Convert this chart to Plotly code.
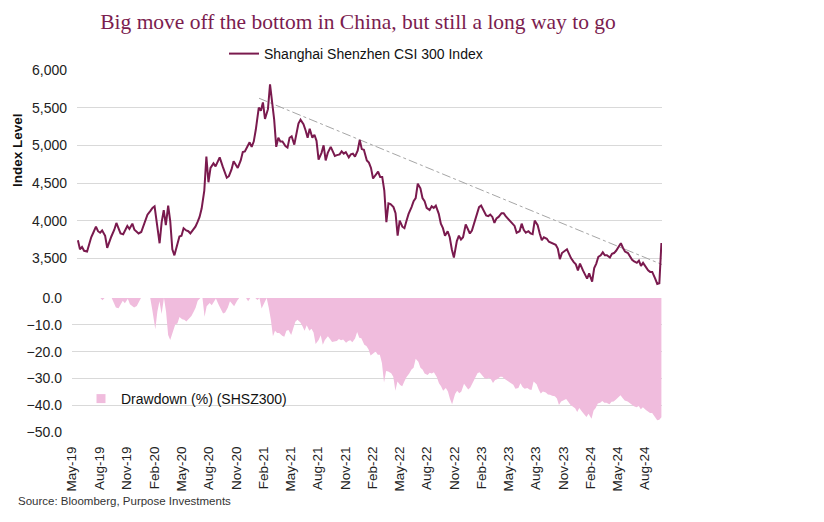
import pandas as pd
import plotly.graph_objects as go

# ---------------- data (4 readings per month, May-2019 .. Sep-2024) ----------------
months = pd.period_range("2019-05", "2024-09", freq="M")

idx_2019 = [
    3740, 3620, 3650, 3600,   # May
    3590, 3700, 3780, 3840,   # Jun
    3920, 3860, 3840, 3870,   # Jul
    3800, 3640, 3720, 3790,   # Aug
    3880, 3970, 3900, 3830,   # Sep
    3820, 3880, 3930, 3890,   # Oct
    3960, 3880, 3860, 3830,   # Nov
    3850, 3920, 4000, 4080,   # Dec
]
idx_2020 = [
    4130, 4170, 4190, 4000,   # Jan
    3700, 3980, 4140, 3940,   # Feb
    4200, 3990, 3620, 3540,   # Mar
    3680, 3790, 3800, 3900,   # Apr
    3870, 3860, 3830, 3870,   # May
    3920, 3980, 4050, 4160,   # Jun
    4400, 4850, 4510, 4700,   # Jul
    4760, 4720, 4790, 4840,   # Aug
    4720, 4650, 4570, 4590,   # Sep
    4680, 4790, 4740, 4700,   # Oct
    4800, 4910, 4920, 4980,   # Nov
    5040, 4980, 5050, 5210,   # Dec
]
idx_2021 = [
    5500, 5460, 5570, 5350,   # Jan
    5480, 5810, 5600, 5340,   # Feb
    4980, 5100, 5050, 5050,   # Mar
    4990, 4970, 5100, 5120,   # Apr
    5010, 5130, 5290, 5340,   # May
    5280, 5200, 5100, 5220,   # Jun
    5100, 5140, 5060, 4810,   # Jul
    4900, 5000, 4800, 4900,   # Aug
    4980, 4920, 4860, 4870,   # Sep
    4880, 4920, 4890, 4910,   # Oct
    4840, 4880, 4890, 4850,   # Nov
    4930, 5070, 4950, 4940,   # Dec
]
idx_2022 = [
    4800, 4770, 4700, 4560,   # Jan
    4620, 4650, 4580, 4580,   # Feb
    4400, 3980, 4230, 4220,   # Mar
    4180, 4100, 3800, 4000,   # Apr
    3920, 3900, 4000, 4090,   # May
    4180, 4260, 4300, 4490,   # Jun
    4430, 4300, 4260, 4170,   # Jul
    4140, 4190, 4170, 4200,   # Aug
    4090, 3960, 3900, 3800,   # Sep
    3860, 3780, 3620, 3510,   # Oct
    3730, 3800, 3750, 3780,   # Nov
    3950, 3880, 3830, 3870,   # Dec
]
idx_2023 = [
    4000, 4100, 4180, 4200,   # Jan
    4130, 4070, 4060, 4080,   # Feb
    4050, 3970, 4030, 4050,   # Mar
    4100, 4100, 4060, 4030,   # Apr
    4000, 3970, 3930, 3840,   # May
    3860, 3960, 3880, 3840,   # Jun
    3860, 3830, 3820, 4000,   # Jul
    3940, 3830, 3740, 3780,   # Aug
    3760, 3720, 3710, 3690,   # Sep
    3680, 3630, 3490, 3570,   # Oct
    3600, 3620, 3560, 3500,   # Nov
    3450, 3420, 3340, 3430,   # Dec
]
idx_2024 = [
    3340, 3280, 3230, 3300,   # Jan
    3190, 3370, 3430, 3520,   # Feb
    3540, 3580, 3540, 3540,   # Mar
    3510, 3560, 3570, 3600,   # Apr
    3660, 3700, 3640, 3590,   # May
    3570, 3530, 3480, 3460,   # Jun
    3440, 3470, 3400, 3440,   # Jul
    3380, 3340, 3320, 3320,   # Aug
    3230, 3160, 3170, 3703,   # Sep
]

dd_2019 = [
    0, 0, 0, 0,
    0, 0, 0, 0,
    0, 0, 0, 0,
    0, -0.8, 0, 0,
    0, 0, -1.8, -3.5,
    -3.8, -2.3, -1.0, -2.0,
    -0.3, -2.3, -2.8, -3.5,
    -3.0, -1.3, 0, 0,
]
dd_2020 = [
    0, 0, 0, -4.5,
    -11.7, -5.0, -1.2, -6.0,
    0, -5.0, -13.8, -15.7,
    -12.4, -9.8, -9.5, -7.1,
    -7.9, -8.1, -8.8, -7.9,
    -6.7, -5.2, -3.6, -1.0,
    0, 0, -7.0, -3.1,
    -1.9, -2.7, -1.2, -0.2,
    -2.7, -4.1, -5.8, -5.4,
    -3.5, -1.2, -2.3, -3.1,
    -1.0, 0, 0, 0,
    0, -1.2, 0, 0,
]
dd_2021 = [
    0, -0.7, 0, -3.9,
    -1.6, 0, -3.6, -8.1,
    -14.3, -12.2, -13.1, -13.1,
    -14.1, -14.5, -12.2, -11.9,
    -13.8, -11.7, -8.9, -8.1,
    -9.1, -10.5, -12.2, -10.2,
    -12.2, -11.5, -12.9, -17.2,
    -15.7, -13.9, -17.4, -15.7,
    -14.3, -15.3, -16.4, -16.2,
    -16.0, -15.3, -15.8, -15.5,
    -16.7, -16.0, -15.8, -16.5,
    -15.1, -12.7, -14.8, -15.0,
]
dd_2022 = [
    -17.4, -17.9, -19.1, -21.5,
    -20.5, -20.0, -21.2, -21.2,
    -24.3, -31.5, -27.2, -27.4,
    -28.1, -29.4, -34.6, -31.2,
    -32.5, -32.9, -31.2, -29.6,
    -28.1, -26.7, -26.0, -22.7,
    -23.8, -26.0, -26.7, -28.2,
    -28.7, -27.9, -28.2, -27.7,
    -29.6, -31.8, -32.9, -34.6,
    -33.6, -34.9, -37.7, -39.6,
    -35.8, -34.6, -35.5, -34.9,
    -32.0, -33.2, -34.1, -33.4,
]
dd_2023 = [
    -31.2, -29.4, -28.1, -27.7,
    -28.9, -29.9, -30.1, -29.8,
    -30.3, -31.7, -30.6, -30.3,
    -29.4, -29.4, -30.1, -30.6,
    -31.2, -31.7, -32.4, -33.9,
    -33.6, -31.8, -33.2, -33.9,
    -33.6, -34.1, -34.3, -31.2,
    -32.2, -34.1, -35.6, -34.9,
    -35.3, -36.0, -36.1, -36.5,
    -36.7, -37.5, -39.9, -38.6,
    -38.0, -37.7, -38.7, -39.8,
    -40.6, -41.1, -42.5, -41.0,
]
dd_2024 = [
    -42.5, -43.5, -44.4, -43.2,
    -45.1, -42.0, -41.0, -39.4,
    -39.1, -38.4, -39.1, -39.1,
    -39.6, -38.7, -38.6, -38.0,
    -37.0, -36.3, -37.3, -38.2,
    -38.6, -39.2, -40.1, -40.4,
    -40.8, -40.3, -41.5, -40.8,
    -41.8, -42.5, -42.9, -42.9,
    -44.4, -45.6, -45.4, -44.5,
]

trend_dates = ["2021-01-05", "2024-10-05"]
trend_values = [5625, 3405]

index_ticks = [3500, 4000, 4500, 5000, 5500, 6000]
dd_ticks = [0, -10, -20, -30, -40, -50]

index_values = idx_2019 + idx_2020 + idx_2021 + idx_2022 + idx_2023 + idx_2024
drawdown_values = dd_2019 + dd_2020 + dd_2021 + dd_2022 + dd_2023 + dd_2024
dates = [m.to_timestamp() + pd.Timedelta(days=3 + 7 * k) for m in months for k in range(4)]
assert len(index_values) == len(dates) == len(drawdown_values)

# ---------------- figure ----------------
# The page body has an 8px margin, so the figure is 816x514 and sits at (8, 8).
FONT = "Liberation Sans, Arial, sans-serif"
LINE_COL = "#7A1A4E"
PINK = "#F0BCDD"
GRID = "#D9D9D9"
W, H = 816, 514
L, R, T, B = 64, 162, 62, 90
PW, PH = W - L - R, H - T - B          # 590 x 362
X_RANGE = ["2019-05-01", "2024-09-27"]


def px_x(page_x):   # page pixel -> paper x
    return (page_x - 8 - L) / PW


def px_y(page_y):   # page pixel -> paper y
    return (T + PH - (page_y - 8)) / PH


fig = go.Figure()

fig.add_trace(go.Scatter(
    x=dates, y=drawdown_values, xaxis="x", yaxis="y2",
    mode="lines", line=dict(width=0, color=PINK), fill="tozeroy", fillcolor=PINK,
    showlegend=False, hoverinfo="x+y", name="Drawdown (%) (SHSZ300)",
))
fig.add_trace(go.Scatter(
    x=[None], y=[None], xaxis="x", yaxis="y2", mode="markers",
    marker=dict(symbol="square", size=9, color=PINK),
    name="Drawdown (%) (SHSZ300)", legend="legend2", showlegend=True,
))
fig.add_trace(go.Scatter(
    x=trend_dates, y=trend_values, xaxis="x2", yaxis="y", mode="lines",
    line=dict(color="#A6A6A6", width=1, dash="dashdot"), showlegend=False,
    hoverinfo="skip",
))
fig.add_trace(go.Scatter(
    x=dates, y=index_values, xaxis="x2", yaxis="y", mode="lines",
    line=dict(color=LINE_COL, width=2), name="Shanghai Shenzhen CSI 300 Index",
    legend="legend",
))

tickfont = dict(family=FONT, size=14, color="#222222")

fig.update_layout(
    width=W, height=H,
    margin=dict(l=L, r=R, t=T, b=B),
    paper_bgcolor="white", plot_bgcolor="white",
    font=dict(family=FONT, size=14, color="#222222"),
    title=dict(
        text="Big move off the bottom in China, but still a long way to go",
        font=dict(family="Liberation Serif, Georgia, serif", size=21.5, color="#7B1D4F"),
        x=(358 - 8) / W, xanchor="center", xref="container",
        y=1 - (21 - 8) / H, yanchor="middle", yref="container",
    ),
    # bottom (drawdown) panel x axis carries the date labels
    xaxis=dict(
        type="date", anchor="y2", domain=[0.0, 1.0],
        range=X_RANGE,
        tick0="2019-05-01", dtick="M3", tickformat="%b-%y", tickangle=-90,
        tickfont=dict(family=FONT, size=13.5, color="#222222"),
        showgrid=False, showline=False, zeroline=False,
        ticks="outside", ticklen=8, tickcolor="rgba(0,0,0,0)",
    ),
    # top (index) panel sits a few pixels further right, as in the reference
    xaxis2=dict(
        type="date", anchor="y", domain=[5 / PW, 1.0],
        range=X_RANGE, showticklabels=False,
        showgrid=False, showline=False, zeroline=False, ticks="",
    ),
    yaxis=dict(
        domain=[(PH - (296 - 70)) / PH, 1.0], range=[3000, 6000],
        anchor="x2",
        tickvals=index_ticks, tickformat=",", ticks="", ticklabelstandoff=9,
        gridcolor=GRID, gridwidth=1, zeroline=False, showline=False,
        tickfont=tickfont,
    ),
    yaxis2=dict(
        domain=[0.0, (432 - 298) / PH], range=[-50, 0],
        anchor="x",
        tickvals=dd_ticks, tickformat=".1f", ticks="", ticklabelstandoff=9,
        gridcolor=GRID, gridwidth=1, zeroline=False, showline=False,
        tickfont=tickfont,
    ),
    legend=dict(
        orientation="h", x=px_x(224), xanchor="left", y=px_y(54), yanchor="middle",
        font=dict(family=FONT, size=14, color="#111111"),
        bgcolor="rgba(0,0,0,0)", itemwidth=30,
    ),
    legend2=dict(
        orientation="h", x=px_x(81), xanchor="left", y=px_y(399), yanchor="middle",
        font=dict(family=FONT, size=14, color="#111111"),
        bgcolor="rgba(0,0,0,0)", itemwidth=30,
    ),
    annotations=[
        dict(text="<b>Index Level</b>", xref="paper", yref="paper",
             x=px_x(17), y=px_y(150), xanchor="center", yanchor="middle",
             textangle=-90, showarrow=False,
             font=dict(family=FONT, size=13.5, color="#111111")),
        dict(text="Source: Bloomberg, Purpose Investments", xref="paper", yref="paper",
             x=px_x(16), y=px_y(501), xanchor="left", yanchor="middle",
             showarrow=False, font=dict(family=FONT, size=11.5, color="#333333")),
    ],
)

fig.write_html("out.html")
